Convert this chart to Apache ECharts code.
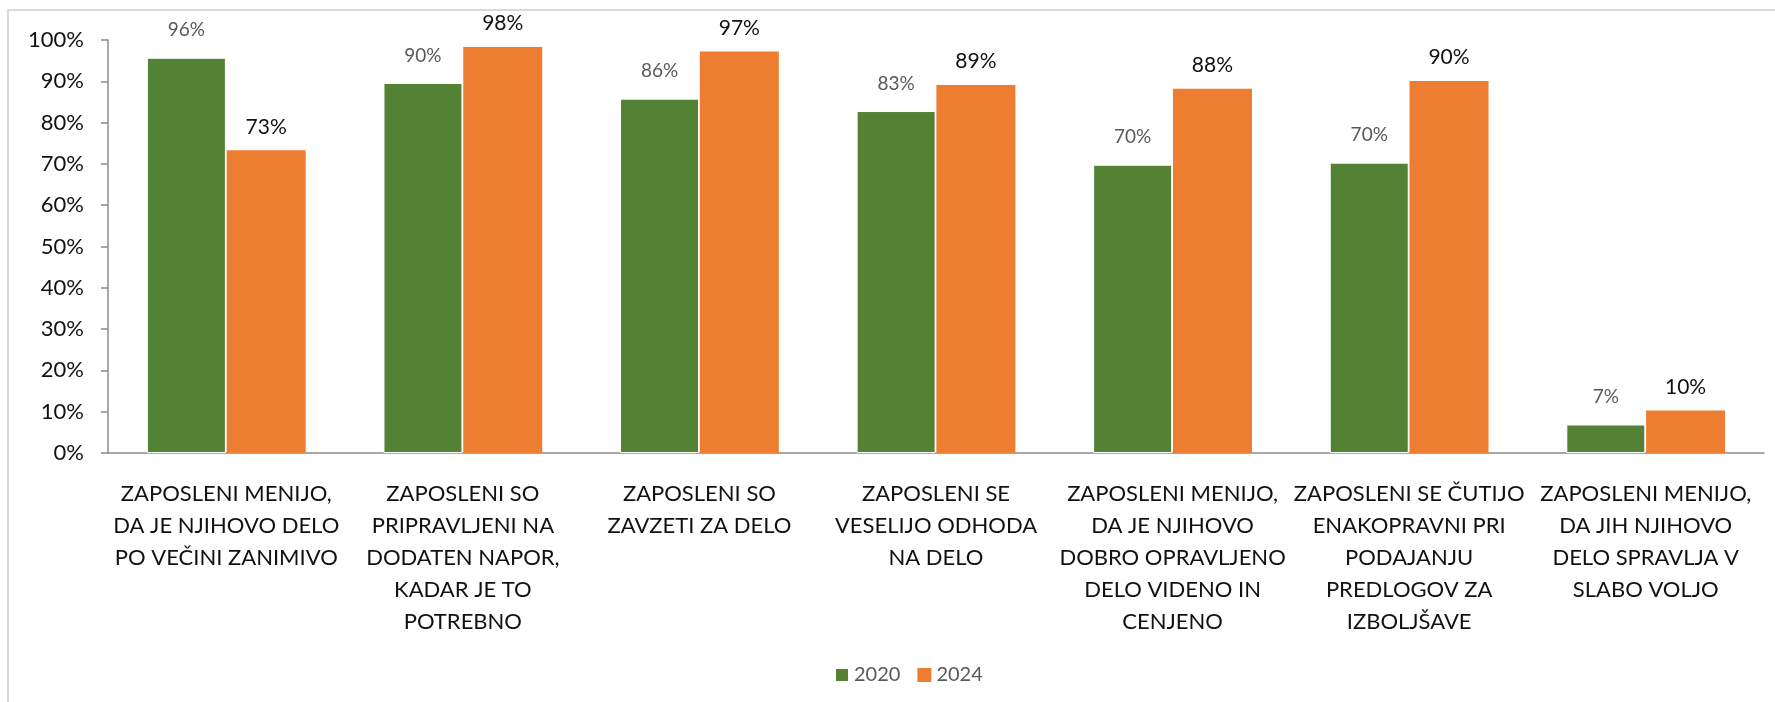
<!DOCTYPE html>
<html>
<head>
<meta charset="utf-8">
<script src="https://cdn.jsdelivr.net/npm/echarts@6/dist/echarts.min.js"></script>
<style>
  html, body { margin: 0; padding: 0; background: #fff; }
  #chart { width: 1775px; height: 702px; }
</style>
</head>
<body>
<div id="chart"></div>
<script>
const categories = [
  'ZAPOSLENI MENIJO,\nDA JE NJIHOVO DELO\nPO VEČINI ZANIMIVO',
  'ZAPOSLENI SO\nPRIPRAVLJENI NA\nDODATEN NAPOR,\nKADAR JE TO\nPOTREBNO',
  'ZAPOSLENI SO\nZAVZETI ZA DELO',
  'ZAPOSLENI SE\nVESELIJO ODHODA\nNA DELO',
  'ZAPOSLENI MENIJO,\nDA JE NJIHOVO\nDOBRO OPRAVLJENO\nDELO VIDENO IN\nCENJENO',
  'ZAPOSLENI SE ČUTIJO\nENAKOPRAVNI PRI\nPODAJANJU\nPREDLOGOV ZA\nIZBOLJŠAVE',
  'ZAPOSLENI MENIJO,\nDA JIH NJIHOVO\nDELO SPRAVLJA V\nSLABO VOLJO'
];
const values2020 = [95.7, 89.6, 85.8, 82.8, 69.8, 70.3, 6.9];
const values2024 = [73.3, 98.3, 97.2, 89.1, 88.2, 90.1, 10.3];
const yTicks = { min: 0, max: 100, interval: 10 };

const chart = echarts.init(document.getElementById('chart'));
const font = 'Lato, "Noto Sans", sans-serif';

chart.setOption({
  animation: false,
  textStyle: { fontFamily: font },
  graphic: [{
    type: 'rect',
    shape: { x: 8, y: 10, width: 1800, height: 800 },
    style: { fill: 'none', stroke: '#d9d9d9', lineWidth: 2 },
    silent: true
  }],
  grid: { left: 108, right: 11, top: 40, bottom: 249 },
  legend: {
    left: 829, top: 660,
    itemWidth: 14, itemHeight: 14, itemGap: 17,
    icon: 'rect',
    textStyle: { fontSize: 20, color: '#595959', fontFamily: font },
    data: ['2020', '2024']
  },
  xAxis: {
    type: 'category',
    data: categories,
    axisLine: { lineStyle: { color: '#8c8c8c', width: 1.5 } },
    axisTick: { length: 8, lineStyle: { color: '#8c8c8c', width: 1.5 } },
    axisLabel: {
      interval: 0, margin: 25, fontSize: 22, lineHeight: 32,
      color: '#111', fontFamily: font
    }
  },
  yAxis: {
    type: 'value',
    min: yTicks.min, max: yTicks.max, interval: yTicks.interval,
    splitLine: { show: false },
    axisLine: { show: true, lineStyle: { color: '#8c8c8c', width: 1.5 } },
    axisTick: { show: true, length: 7, lineStyle: { color: '#8c8c8c', width: 1.5 } },
    axisLabel: { formatter: '{value}%', fontSize: 22, color: '#111', margin: 24, fontFamily: font }
  },
  series: [
    {
      name: '2020', type: 'bar', data: values2020,
      barWidth: 79, barGap: '1%',
      itemStyle: { color: '#548235', borderColor: '#fff', borderWidth: 1 },
      label: {
        show: true, position: 'top', distance: 18,
        fontSize: 19, color: '#595959', fontFamily: font,
        formatter: p => Math.round(p.value) + '%'
      }
    },
    {
      name: '2024', type: 'bar', data: values2024,
      barWidth: 79,
      itemStyle: { color: '#ED7D31' },
      label: {
        show: true, position: 'top', distance: 13,
        fontSize: 21, color: '#111', fontFamily: font,
        formatter: p => Math.round(p.value) + '%'
      }
    }
  ]
});
</script>
</body>
</html>
